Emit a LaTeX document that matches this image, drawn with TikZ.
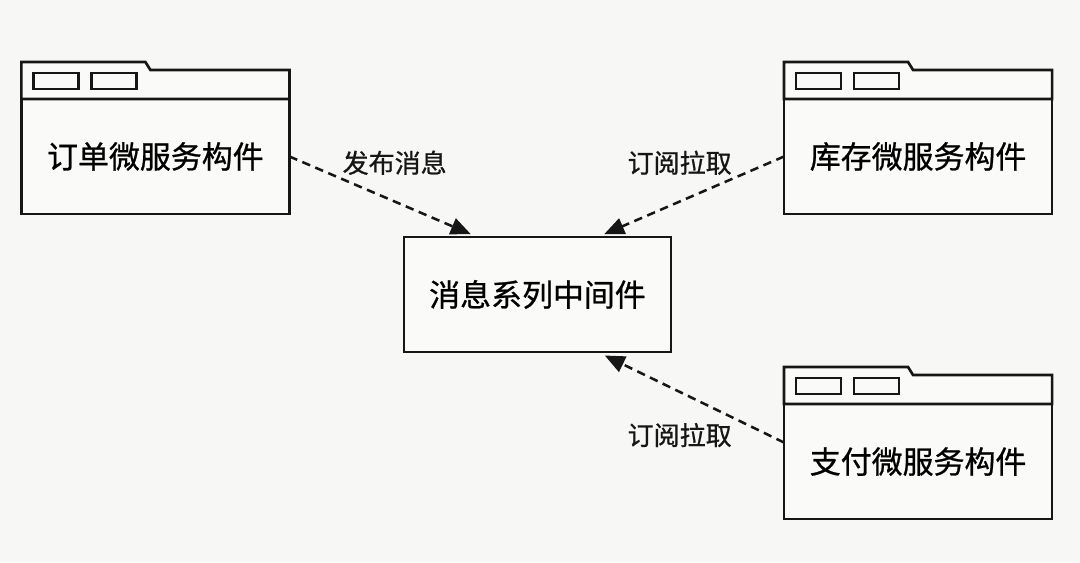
\documentclass[tikz,border=0pt]{standalone}
\usepackage{fontspec}
\setmainfont{Noto Sans CJK SC}[UprightFeatures={FakeBold=0.8}]
\usetikzlibrary{arrows.meta,positioning,calc}
\definecolor{paper}{RGB}{247,247,245}
\definecolor{boxfill}{RGB}{250,250,249}
\definecolor{ink}{RGB}{22,22,22}

\begin{document}
\begin{tikzpicture}[
    x=0.025cm, y=-0.025cm,
    comp/.style={rectangle, draw=ink, line width=1.9pt, outer sep=0pt, fill=boxfill, minimum width=6.7cm, minimum height=2.875cm, font=\fontsize{22}{26}\selectfont},
    head/.style={draw=ink, line width=1.9pt},
    flow/.style={draw=ink, line width=1.8pt, dash pattern=on 6pt off 4pt, -{Triangle[length=0.5cm,width=0.42cm]}},
    lbl/.style={font=\fontsize{18.5}{22}\selectfont, text=ink}
]
    \useasboundingbox[fill=paper] (0,0) rectangle (1080,562);

    \node[comp, minimum width=6.675cm] (mq) at (537.5,294.5) {消息系列中间件};
    \node[comp, above left=0.575cm and 2.8625cm of mq] (order) {订单微服务构件};
    \node[comp, above right=0.575cm and 2.825cm of mq] (stock) {库存微服务构件};
    \node[comp, below right=1.3cm and 2.825cm of mq] (pay) {支付微服务构件};

    \foreach \c in {order,stock,pay} {
        \draw[head, fill=boxfill] (\c.north west) -- ++(0,-37) -- ++(124,0) -- ++(5,8) -- ($(\c.north east)+(0,-29)$) -- (\c.north east) -- cycle;
        \draw[head] ($(\c.north west)+(12,-10)$) rectangle ++(45,-16);
        \draw[head] ($(\c.north west)+(70,-10)$) rectangle ++(45,-16);
    }

    \draw[flow, shorten >=0.18cm] (order.east) -- node[lbl, pos=0.56, yshift=0.97cm] {发布消息} ($(mq.north)!0.45!(mq.north west)$);
    \draw[flow, shorten >=0.18cm] (stock.west) -- node[lbl, pos=0.56, yshift=0.97cm] {订阅拉取} ($(mq.north)!0.45!(mq.north east)$);
    \draw[flow, shorten >=0.2cm] ($(pay.west)+(0,-19)$) -- node[lbl, pos=0.56, yshift=-1.08cm] {订阅拉取} ($(mq.south)!0.45!(mq.south east)$);
\end{tikzpicture}
\end{document}
